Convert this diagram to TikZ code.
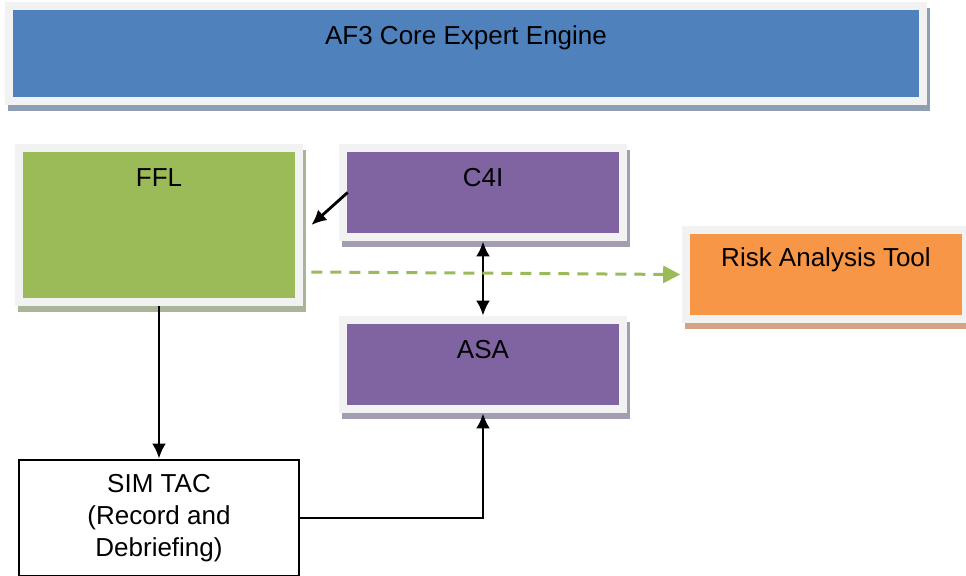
\documentclass[tikz,border=0pt]{standalone}
\usepackage{fontspec}
\setmainfont{Liberation Sans}
\usetikzlibrary{arrows.meta, shadows, calc}

\definecolor{framegray}{HTML}{F2F2F2}
\definecolor{corefill}{HTML}{4F81BD}
\definecolor{coreshade}{HTML}{8E9EB3}
\definecolor{fflfill}{HTML}{9BBB59}
\definecolor{fflshade}{HTML}{A9B597}
\definecolor{c4ifill}{HTML}{8064A2}
\definecolor{c4ishade}{HTML}{A49CB0}
\definecolor{riskfill}{HTML}{F79646}
\definecolor{riskshade}{HTML}{D2A484}

\tikzset{
    panel/.style 2 args={rectangle, fill=framegray, inner xsep=0pt, inner ysep=0pt,
        text height=21pt, font=\fontsize{13}{16}\selectfont,
        general shadow={fill=#2, shadow xshift=1.5pt, shadow yshift=-3pt},
        path picture={\fill[#1] ([shift={(4pt,4pt)}]path picture bounding box.south west)
            rectangle ([shift={(-4pt,-4pt)}]path picture bounding box.north east);}},
    link/.style={line width=1.4pt, black},
    tip/.style={-{Latex[length=7.5pt,width=7pt]}},
    twotip/.style={{Latex[length=7.5pt,width=7pt]}-{Latex[length=7.5pt,width=7pt]}},
}

\begin{document}
\begin{tikzpicture}[x=0.5pt, y=-0.5pt]

        \useasboundingbox (0,0) rectangle (966,575);

        % ENGINE
        \node[panel={corefill}{coreshade}, minimum width=461pt, text depth=30.5pt] (core) at (466,53.5) {AF3 Core Expert Engine};

        % FFL
        \node[panel={fflfill}{fflshade}, minimum width=144pt, text depth=60pt] (FFL) at (159,225) {FFL};

        % C4I AND ASA
        \node[panel={c4ifill}{c4ishade}, minimum width=144pt, text depth=27.5pt] (C4I) at (483,192.5) {C4I};
        \node[panel={c4ifill}{c4ishade}, minimum width=144pt, text depth=27.5pt] (ASA) at (483,364.5) {ASA};

        % RISK
        \node[panel={riskfill}{riskshade}, minimum width=144pt, text depth=28.5pt, text height=20pt] (risk) at (826,274.5) {Risk Analysis Tool};

        % SIM TAC
        \node[draw, fill=white, line width=1.4pt, minimum width=140pt, minimum height=58pt,
            align=center, font=\fontsize{13}{16}\selectfont] (simtac) at (159,518) {SIM TAC\\(Record and\\Debriefing)};

        % LINKS
        \draw[link, tip] ([xshift=4.5pt]C4I.west) -- ([xshift=4pt]FFL.east);
        \draw[link, twotip] (C4I.south) -- (ASA.north);
        \draw[line width=1.5pt, fflfill, dash pattern=on 5.5pt off 4pt, -{Triangle[length=8.5pt,width=8.5pt]}]
            ([shift={(4pt,-23.5pt)}]FFL.east) -- ([xshift=-0.7pt]risk.west);
        \draw[link, tip] (FFL.south) -- (simtac.north);
        \draw[link, tip] (simtac.east) -| (ASA.south);

    \end{tikzpicture}
\end{document}
